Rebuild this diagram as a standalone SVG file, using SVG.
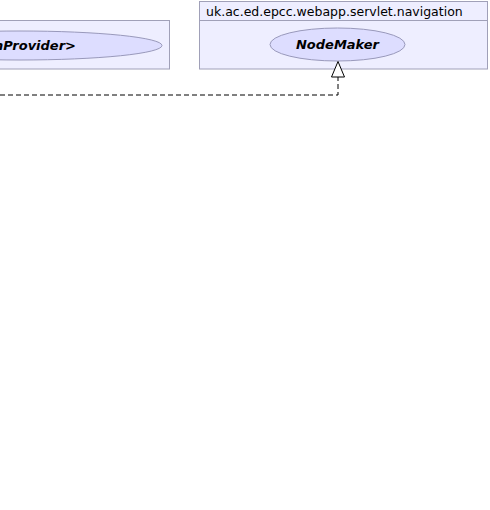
<svg xmlns="http://www.w3.org/2000/svg" width="490" height="510" viewBox="0 0 490 510">
<style>
.pkg{fill:#eeeeff;stroke:#a0a0b8;stroke-width:1}
.cls{fill:#ddddff;stroke:#9999bb;stroke-width:1}
.pkgname{font-family:"DejaVu Sans",sans-serif;font-size:12.5px;fill:#000}
.clsname{font-family:"DejaVu Sans",sans-serif;font-size:13px;font-weight:bold;font-style:italic;fill:#000}
.dep{fill:none;stroke:#000;stroke-width:1;stroke-dasharray:5,3}
</style>
<rect width="490" height="510" fill="#ffffff"/>
<g id="pkg-left">
<rect class="pkg" x="-10" y="20.5" width="179.5" height="48.5"/>
<ellipse class="cls" cx="20" cy="45.5" rx="142" ry="14.5"/>
<text class="clsname" x="76" y="50" text-anchor="end">nProvider&gt;</text>
</g>
<g id="pkg-navigation">
<rect class="pkg" x="199.5" y="1.5" width="288" height="67.5"/>
<line x1="199.5" y1="20.5" x2="487.5" y2="20.5" stroke="#a0a0b8" stroke-width="1"/>
<text class="pkgname" x="206" y="15.5">uk.ac.ed.epcc.webapp.servlet.navigation</text>
</g>
<g id="NodeMaker">
<ellipse class="cls" cx="337.5" cy="44.5" rx="67.5" ry="16.5"/>
<text class="clsname" x="337.5" y="49" text-anchor="middle">NodeMaker</text>
</g>
<g id="connectors">
<polyline class="dep" points="0,95 338,95 338,77"/>
<polygon points="338,61.5 331.5,77 344.5,77" fill="#ffffff" stroke="#000" stroke-width="1"/>
</g>
</svg>
